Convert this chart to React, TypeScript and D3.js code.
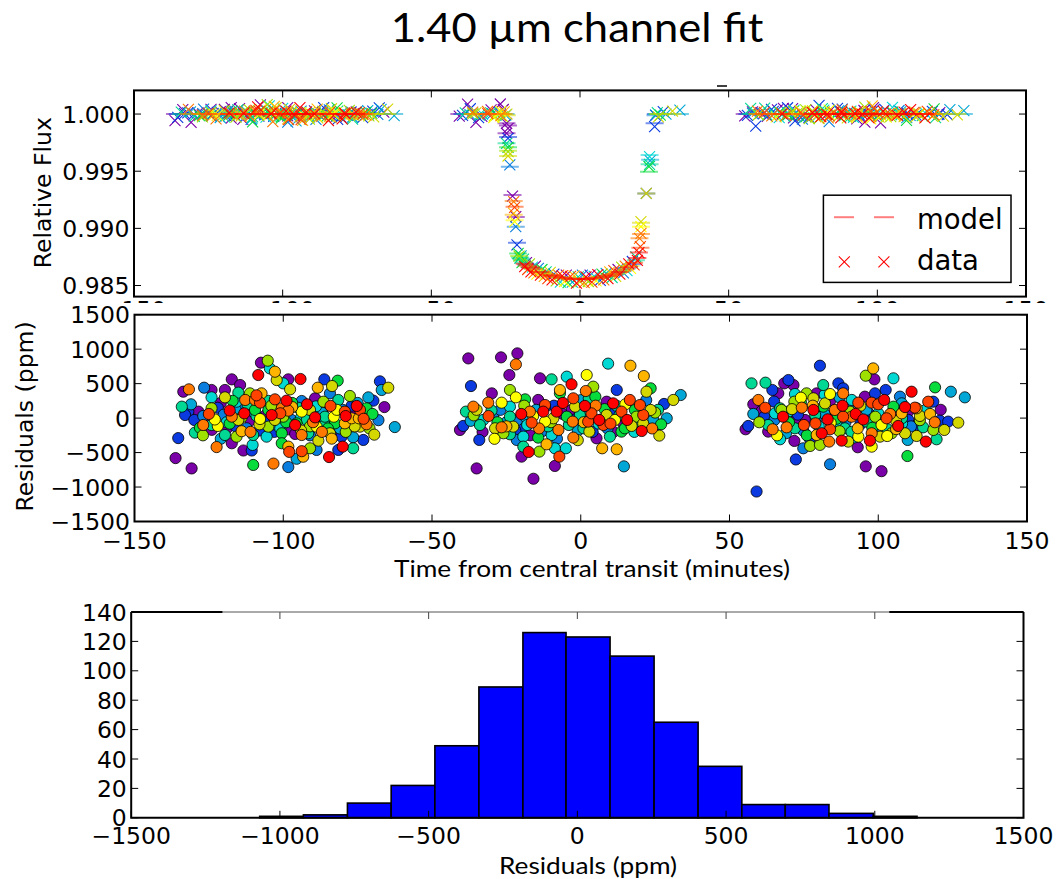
import React from "react";
import * as d3 from "d3";

const W = 1061;
const H = 879;

// colour index -> rainbow colour (visit colours)
const PALETTE = [
  "#7a00a8", "#0a3ae0", "#0a7ede", "#00a6d6", "#00d8d4", "#00d894", "#08dc3c",
  "#9ee000", "#d4d800", "#ffff00", "#ffb400", "#ff7800", "#ff4400", "#ff0000",
];

// residuals [time (min), residual (ppm), colour index]
const residLeft: [number, number, number][] = [
  [-107.5,804,0],[-105.2,833,7],[-102.8,673,10],[-108.4,625,13],[-104.5,721,4],
  [-117.3,562,0],[-114.5,480,0],[-98.3,562,0],[-94.2,567,13],[-102.2,552,8],[-100.0,504,4],
  [-86.2,562,1],[-81.7,543,6],[-83.6,465,8],[-88.4,441,10],[-84.3,359,2],
  [-67.5,533,1],[-64.7,441,8],[-66.9,408,3],
  [-126.6,441,2],[-131.7,417,11],[-133.6,383,0],[-124.1,408,0],[-119.6,408,0],[-115.1,369,5],[-119.6,301,8],[-124.1,301,4],[-111.2,359,7],[-107.3,359,10],[-97.7,417,8],[-102.8,272,12],[-98.9,253,13],[-93.8,248,2],[-89.3,287,0],[-86.5,238,7],[-81.5,263,5],[-77.6,321,7],[-71.4,301,3],[-69.7,253,1],
  [-134.1,166,5],[-131.9,94,1],[-128.5,94,0],[-124.1,142,7],[-115.7,238,4],[-112.8,263,11],[-109.5,263,11],[-107.8,224,12],[-105.0,118,6],[-100.5,142,11],[-98.3,108,11],[-93.8,94,9],[-91.0,118,8],[-89.3,11,13],[-86.5,142,0],[-84.1,176,12],[-79.3,94,12],[-75.3,176,13],[-74.2,118,12],[-72.0,142,6],
  [-133.0,45,1],[-129.9,-27,1],[-126.9,31,2],[-126.9,-100,11],[-124.1,-100,5],[-122.0,-114,9],[-117.3,21,11],[-113.1,69,13],[-115.1,-27,8],[-109.5,118,6],[-107.8,-13,9],[-103.9,45,13],[-102.8,-27,8],[-100.0,21,7],[-97.2,-27,2],[-95.5,-76,6],[-92.1,-27,5],[-88.8,-124,9],[-86.0,-27,3],[-82.6,-76,6],[-79.3,-76,10],[-77.0,-3,10],[-74.6,-3,10],[-73.1,-51,7],[-74.2,-124,8],[-78.1,-124,1],
  [-135.3,-290,1],[-129.7,-211,5],[-119.6,-245,5],[-115.7,-269,7],[-112.3,-148,2],[-110.1,-245,5],[-105.0,-124,7],[-105.6,-269,4],[-100.5,-220,6],[-98.3,-162,0],[-93.8,-245,11],[-91.6,-220,5],[-88.2,-327,8],[-84.3,-220,8],[-83.7,-298,10],[-80.4,-269,1],[-76.5,-278,3],[-73.1,-317,1],[-69.4,-240,8],[-62.5,-130,3],
  [-122.4,-420,11],[-117.3,-365,0],[-113.4,-470,0],[-110.3,-389,4],[-110.6,-470,1],[-100.5,-365,6],[-98.3,-414,10],[-98.0,-490,12],[-93.8,-480,12],[-91.0,-438,7],[-93.3,-560,10],[-95.5,-590,3],[-88.8,-462,2],[-84.6,-565,13],[-80.0,-414,13],[-81.5,-462,1],[-76.5,-438,5],
  [-136.2,-580,0],[-130.8,-730,0],[-110.1,-680,6],[-103.3,-660,11],[-98.3,-710,2],
  [-120,50,2],[-118,-80,6],[-116,120,3],[-111,-30,0],[-109,30,5],[-106,-60,1],[-104,180,7],[-101,-150,4],[-99,60,0],[-96,-100,13],
  [-95,150,5],[-92,40,1],[-90,-60,11],[-87,80,3],[-85,-150,6],[-83,20,9],[-80,120,2],[-78,-40,5],[-76,60,0],[-73,-10,12],
  [-71,-150,7],[-122,150,1],[-127,-60,0],[-114,-190,10],[-108,-180,1],[-97,220,6],[-94,-180,8],[-89,170,4],[-82,-200,0],[-75,220,3],
  [-119,-150,0],[-112,200,5],[-103,-90,3],[-91,-250,2],[-86,-100,5],[-79,-200,7],[-124,-170,0],[-117,250,6],[-88,0,1],[-100,90,4],
  [-131,200,3],[-128,-140,6],[-125,60,12],[-123,-20,9],[-121,220,0],[-119,-60,4],[-118,110,13],[-116,-120,1],[-114,10,7],[-113,180,2],
  [-111,-200,11],[-110,90,3],[-108,-90,8],[-106,40,0],[-105,250,5],[-103,-200,1],[-101,70,12],[-99,-60,6],[-97,160,10],[-96,-230,0],
  [-94,10,4],[-92,200,13],[-91,-120,7],[-89,60,2],[-87,-200,11],[-86,20,5],[-84,-80,0],[-82,120,9],[-81,-150,3],[-79,30,13],
  [-77,180,1],[-76,-120,8],[-74,40,4],[-72,-90,11],[-70,60,6],[-68,-30,2],[-66,160,0],[-127,-250,7],[-121,-300,3],[-109,330,12],
];

const residCenter: [number, number, number][] = [
  [-37.8,866,0],[-26.8,881,0],[-21.3,939,0],[-21.8,779,11],[-24.0,625,0],[-36.9,465,1],[9.2,790,4],[16.7,760,10],[21.2,610,10],[-13.7,577,0],
  [-9.8,562,5],[-4.7,601,4],[2.0,625,9],[-3.1,490,13],[-7.0,407,10],[1.7,393,11],[4.2,456,7],[-29.9,359,0],[-23.8,408,7],[-21.8,301,9],
  [-26.6,224,9],[-31.1,224,11],[-36.1,166,11],[-38.6,94,5],[-23.8,166,4],[-18.7,272,6],[-14.3,263,0],[-12.0,190,12],[-2.5,287,12],[1.4,176,13],
  [4.9,311,6],[12.1,408,1],[10.9,214,13],[16.5,263,12],[22.1,383,8],[23.5,432,6],[31.1,263,8],[33.6,335,3],[28.0,205,1],[21.0,45,12],
  [18.2,118,6],[13.7,94,12],[11.5,-27,9],[15.6,-27,13],[20.5,-187,13],[24.4,-27,3],[28.9,-3,3],[25.5,-114,1],[26.4,-254,8],[17.1,-114,8],
  [13.7,-196,6],[9.8,-269,5],[5.3,-293,0],[7.2,-438,10],[12.1,-452,10],[14.5,-700,3],[6.2,-27,13],[7.6,-100,12],[2.5,-51,12],[2.9,-196,8],
  [-1.9,166,8],[-8.1,94,13],[-12.6,94,13],[-17.1,94,11],[-2.7,-51,11],[-7.5,-172,11],[-12.0,-51,9],[-16.5,-66,12],[-21.3,-27,2],[-26.6,-134,11],
  [-28.8,-148,8],[-23.8,-235,5],[-33.9,-100,5],[-39.5,-114,1],[-40.6,-172,0],[-34.1,-317,1],[-19.3,-269,4],[-14.3,-283,6],[-9.8,-245,4],[-2.5,-283,11],
  [-11.5,-380,10],[-19.3,-414,5],[-13.9,-486,7],[-17.5,-491,13],[-8.7,-438,4],[-5.0,-438,4],[-7.2,-559,12],[-8.7,-694,0],[-19.9,-559,0],[-35.0,-730,0],
  [-15.9,-880,0],[-4.7,21,6],[-9.2,-3,8],[-18.7,21,3],[-29.4,45,2],[-22.7,-124,8],[0.9,-148,5],[3.6,69,12],[8.7,45,8],[19.9,190,12],
  [23.5,118,8],[-32.8,-27,4],[-26.0,-220,7],[-21.5,-317,2],[-23.8,21,5],[-7.0,359,6],[-0.3,45,5],[8.7,238,0],[14.8,-148,6],[18.7,21,7],
  [2.7,287,5],
  [-20,-150,1],[-15,120,3],[-11,-120,5],[-6,60,0],[-1,-180,3],[3,130,2],[6,-80,4],[10,80,1],[14,-60,0],[-25,-60,3],
  [-30,110,5],[-2,-20,1],[9,-150,2],[-17,-250,0],[20,-60,5],[25,80,7],[-9,180,1],[-13,-190,2],[0,260,3],[12,180,5],
  [-37,-40,3],[-35,120,8],[-33,-200,0],[-31,30,12],[-28,-60,6],[-27,120,2],[-25,-120,10],[-22,-180,1],[-20,60,13],[-19,180,7],
  [-18,-100,4],[-16,30,9],[-14,-150,11],[-12,160,1],[-10,-60,7],[-8,-300,2],[-6,220,13],[-4,-100,5],[-3,120,0],[-1,-320,8],
  [1,-60,10],[2,80,4],[4,-200,1],[5,180,11],[7,-20,3],[8,130,6],[10,-80,12],[11,-200,0],[13,40,5],[15,200,9],
  [16,-60,1],[18,-200,4],[19,100,0],[21,-80,8],[22,260,2],[24,-150,11],[26,120,5],[27,-90,6],[-29,-300,9],[-36,40,7],
];

const residRight: [number, number, number][] = [
  [80.4,760,1],[98.3,721,10],[95.8,615,7],[98.7,562,0],[105.1,577,4],[57.4,504,5],[62.1,514,5],[69.8,552,1],[71.5,480,0],[68.4,504,0],
  [64.4,408,1],[66.4,359,0],[81.5,480,5],[86.6,504,1],[88.2,432,1],[83.8,349,9],[88.2,359,11],[79.3,359,0],[75.9,359,7],[72.0,349,4],
  [74.0,296,9],[78.2,287,8],[82.1,214,8],[74.3,152,11],[78.2,118,13],[71.8,238,7],[59.7,263,11],[58.0,200,0],[61.7,21,1],[60.8,103,0],
  [67.0,142,5],[67.5,118,7],[65.1,-27,2],[56.3,-114,1],[55.4,-162,0],[63.0,-196,0],[64.5,-162,11],[69.2,-134,11],[72.0,-148,5],[74.8,-182,2],
  [67.0,-307,4],[71.8,-331,0],[77.1,-404,7],[74.8,-438,2],[72.3,-600,1],[83.8,-670,2],[59.1,-1065,1],[95.8,-700,0],[101.1,-770,0],[109.8,-550,6],
  [78.9,-76,12],[83.0,-18,13],[83.8,-162,12],[79.3,-245,10],[83.5,-341,11],[87.7,-327,13],[80.4,-389,7],[88.2,21,12],[92.4,60,13],[93.3,224,12],
  [97.8,224,12],[102.0,263,13],[98.9,359,1],[102.5,408,1],[107.3,311,2],[111.2,383,13],[119.1,446,6],[124.4,383,3],[129.1,301,3],[116.8,238,12],
  [118.5,238,1],[112.3,152,12],[107.9,69,10],[117.4,60,10],[114.0,31,8],[102.8,-3,12],[106.7,-114,13],[104.5,-220,7],[109.0,-220,8],[109.9,-317,3],
  [112.9,-259,8],[116.0,-341,13],[119.6,-307,5],[115.1,-134,5],[118.5,-172,7],[122.2,-172,8],[120.7,-37,1],[123.5,-51,1],[126.9,-66,8],[93.1,-148,10],
  [93.3,-269,9],[97.2,-327,13],[97.8,-414,9],[93.1,-423,0],[89.9,-341,8],[100.6,-269,8],[97.8,-220,11],[88.8,-148,5],[86.0,-51,4],[96.1,-51,5],
  [100.0,69,4],[105.1,166,6],[107.9,214,3],[78.8,45,5],[75.4,-27,0],[69.8,94,4],[65.3,69,4],[91.1,263,4],[95.5,311,0],[90.5,94,7],
  [85.4,118,11],[81.5,166,6],[101.1,-100,9],[110.1,-27,1],[112.9,142,10],
  [82,60,3],[86,-10,6],[90,150,2],[94,-90,1],[99,20,7],[103,-160,5],[80,-120,4],[76,-250,6],[84,260,0],[96,120,3],
  [100,-200,2],[106,-40,8],[110,90,0],[73,50,1],[70,-60,6],[91,-200,5],[87,300,3],[104,60,11],[108,-80,4],[113,-100,1],
  [58,60,3],[60,-60,7],[62,150,12],[63,-100,5],[65,240,1],[66,-250,9],[68,20,13],[69,-220,3],[71,130,8],[72,-40,0],
  [74,230,6],[75,-100,12],[77,-300,1],[78,180,10],[79,-30,2],[81,-220,13],[82,340,4],[84,-70,9],[85,60,0],[87,-190,7],
  [88,180,13],[89,-60,2],[91,20,11],[92,-280,4],[94,180,8],[95,-20,13],[97,60,1],[98,-140,6],[100,200,12],[101,-30,3],
  [103,-260,9],[105,100,0],[106,-160,10],[108,0,5],[109,160,13],[111,-120,2],[114,-30,7],[116,120,4],[119,-60,11],[121,120,0],
];

// in-transit light curve points [time, flux, model flux, colour index]
const transitFlux: [number, number, number, number][] = [
  [-25.5,1.0002,1.0,10],[-25.0,0.9999,1.0,3],[-25.8,1.0004,1.0,0],[-24.6,1.0000,0.9999,8],
  [-24.7,0.99919,0.99919,0],[-24.2,0.99875,0.99900,0],[-24.7,0.99832,0.99832,0],[-24.2,0.99788,0.99800,1],
  [-24.7,0.99744,0.99744,5],[-24.2,0.99709,0.99709,6],[-24.2,0.99671,0.99680,7],[-24.2,0.99633,0.99633,8],[-23.6,0.99555,0.99540,2],
  [-22.7,0.99283,0.99292,0],[-22.3,0.99234,0.99240,11],[-22.0,0.99184,0.99190,12],[-22.3,0.99132,0.99120,10],[-21.6,0.99103,0.99100,0],
  [-22.0,0.99059,0.99070,9],[-21.6,0.99015,0.99015,2],[-21.2,0.98855,0.98875,1],[-20.8,0.98781,0.98781,6],[-20.5,0.98758,0.98758,7],[-20.2,0.98740,0.98745,5],
  [-19.8,0.98760,0.98735,3],[-19.5,0.98700,0.98720,6],[-19.0,0.98730,0.98700,5],[-18.6,0.98665,0.98690,13],[-18.0,0.98700,0.98680,0],
  [-17.6,0.98640,0.98672,12],[-17.0,0.98690,0.98665,7],[-16.5,0.98620,0.98658,13],[-16.0,0.98660,0.98650,4],[-15.5,0.98610,0.98644,11],
  [-15.0,0.98670,0.98638,0],[-14.5,0.98600,0.98630,9],[-14.0,0.98650,0.98625,2],[-13.3,0.98590,0.98618,13],[-12.8,0.98640,0.98613,6],
  [-12.0,0.98580,0.98605,10],[-11.4,0.98620,0.98600,5],[-10.8,0.98560,0.98595,12],[-10.0,0.98615,0.98590,8],[-9.4,0.98550,0.98586,13],
  [-8.8,0.98600,0.98582,1],[-8.0,0.98540,0.98577,7],[-7.2,0.98590,0.98573,11],[-6.6,0.98530,0.98570,4],[-6.0,0.98585,0.98568,13],
  [-5.2,0.98535,0.98565,9],[-4.6,0.98590,0.98563,0],[-4.0,0.98525,0.98562,6],[-3.2,0.98580,0.98560,12],[-2.6,0.98530,0.98559,3],
  [-2.0,0.98585,0.98558,10],[-1.2,0.98520,0.98557,13],[-0.6,0.98575,0.98557,5],[0.0,0.98535,0.98557,8],[0.8,0.98590,0.98557,2],
  [1.4,0.98525,0.98557,11],[2.0,0.98575,0.98558,13],[2.8,0.98535,0.98559,7],[3.4,0.98590,0.98561,0],[4.0,0.98530,0.98562,12],
  [4.8,0.98580,0.98564,4],[5.4,0.98540,0.98566,9],[6.0,0.98595,0.98568,13],[6.8,0.98545,0.98571,1],[7.4,0.98600,0.98575,6],
  [8.0,0.98550,0.98577,11],[8.8,0.98605,0.98582,3],[9.4,0.98560,0.98586,13],[10.0,0.98620,0.98590,10],[10.8,0.98570,0.98595,5],
  [11.4,0.98630,0.98600,12],[12.0,0.98580,0.98605,8],[12.8,0.98640,0.98613,0],[13.4,0.98600,0.98618,13],[14.0,0.98660,0.98625,7],
  [14.6,0.98610,0.98632,2],[15.2,0.98670,0.98640,11],[15.8,0.98630,0.98648,4],[16.4,0.98690,0.98660,13],[17.0,0.98650,0.98670,9],
  [17.6,0.98710,0.98685,1],[18.2,0.98680,0.98700,12],[18.8,0.98750,0.98720,5],[19.3,0.98720,0.98740,13],
  [19.8,0.98788,0.98788,13],[20.3,0.98840,0.98830,12],[20.0,0.98913,0.98913,11],[20.5,0.98957,0.98950,11],[20.5,0.99015,0.99015,9],
  [20.5,0.99059,0.99050,8],[22.3,0.99306,0.99306,1],[22.3,0.99306,0.99306,8],[23.4,0.99627,0.99642,4],[23.6,0.99592,0.99600,3],
  [23.2,0.99540,0.99496,6],[23.4,0.99560,0.99560,5],[25.1,0.99890,0.99919,1],[25.4,0.99990,0.99990,2],
];
const BASELINE_FLUX = 1.0;
const TRANSIT_HALF = 25;

const histEdges = [-1068, -921, -773, -626, -479, -331, -183, -38, 110, 258, 406, 553, 699, 846, 995, 1142];
const histCounts = [1, 2, 10, 22, 49, 89, 126, 123, 110, 65, 35, 9, 9, 3, 1];

const timeTicks = [-150, -100, -50, 0, 50, 100, 150];
const fluxTicks = [0.985, 0.99, 0.995, 1.0];
const residTicks = [-1500, -1000, -500, 0, 500, 1000, 1500];
const histXTicks = [-1500, -1000, -500, 0, 500, 1000, 1500];
const histYTicks = [0, 20, 40, 60, 80, 100, 120, 140];

const TITLE = "1.40 \u00B5m channel fit";
const TOP_YLABEL = "Relative Flux";
const MID_YLABEL = "Residuals (ppm)";
const MID_XLABEL = "Time from central transit (minutes)";
const HIST_XLABEL = "Residuals (ppm)";
const LEGEND = ["model", "data"];

const TOP = { left: 134, right: 1026, top: 90.4, bottom: 296.6 };
const MID = { left: 134.5, right: 1027, top: 314.7, bottom: 521.5 };
const HIST = { left: 131.2, right: 1023.5, top: 612, bottom: 817.8 };

const MPL = "'DejaVu Sans', sans-serif";
const CAL = "Lato, 'Open Sans', sans-serif";
const FS = 23.5;
const TL = 7;
const minus = (s: string) => s.replace("-", "\u2212");

export default function App() {
  const xT = d3.scaleLinear().domain([-150, 150]).range([TOP.left, TOP.right]);
  const yT = d3.scaleLinear().domain([0.98403, 1.00207]).range([TOP.bottom, TOP.top]);
  const xM = d3.scaleLinear().domain([-150, 150]).range([MID.left, MID.right]);
  const yM = d3.scaleLinear().domain([-1500, 1500]).range([MID.bottom, MID.top]);
  const xH = d3.scaleLinear().domain([-1500, 1500]).range([HIST.left, HIST.right]);
  const yH = d3.scaleLinear().domain([0, 140]).range([HIST.bottom, HIST.top]);

  const allResid = [...residLeft, ...residCenter, ...residRight];
  const topData = [
    ...allResid
      .filter(([t]) => Math.abs(t) > TRANSIT_HALF)
      .map(([t, r, c]) => ({ t, f: BASELINE_FLUX + r * 1e-6, m: BASELINE_FLUX, c })),
    ...transitFlux.map(([t, f, m, c]) => ({ t, f, m, c })),
  ];
  const colours = d3.range(PALETTE.length);
  const residSorted = d3.sort(allResid, (d) => d[2]);

  const xs = 5.5;
  const crossPath = (x: number, y: number) =>
    `M${x - xs},${y - xs}L${x + xs},${y + xs}M${x - xs},${y + xs}L${x + xs},${y - xs}`;

  const fmtFlux = d3.format(".3f");

  return (
    <svg width={W} height={H} style={{ position: "absolute", left: 0, top: 0, background: "#fff" }}>
      <defs>
        <clipPath id="cTop">
          <rect x={TOP.left} y={TOP.top} width={TOP.right - TOP.left} height={TOP.bottom - TOP.top} />
        </clipPath>
        <clipPath id="cTopLab">
          <rect x={0} y={298} width={W} height={5} />
        </clipPath>
        <clipPath id="cMid">
          <rect x={MID.left} y={MID.top} width={MID.right - MID.left} height={MID.bottom - MID.top} />
        </clipPath>
      </defs>
      <rect width={W} height={H} fill="#fff" />

      {/* Title */}
      <text x={577} y={41.7} textAnchor="middle" fontFamily={CAL} fontSize={41} textLength={372.6} lengthAdjust="spacingAndGlyphs" fill="#000">
        {TITLE}
      </text>
      <line x1={717} x2={727} y1={86} y2={86} stroke="#000" strokeWidth={1.5} />

      {/* ---------- TOP PANEL ---------- */}
      <g clipPath="url(#cTop)">
        {colours.map((c) => (
          <g key={c}>
            {topData.filter((d) => d.c === c).map((d, i) => (
              <line key={"m" + i} x1={xT(d.t) - 9} x2={xT(d.t) + 9} y1={yT(d.m)} y2={yT(d.m)} stroke={PALETTE[c]} strokeOpacity={0.55} strokeWidth={2} />
            ))}
            {topData.filter((d) => d.c === c).map((d, i) => (
              <path key={"d" + i} d={crossPath(xT(d.t), yT(d.f))} stroke={PALETTE[c]} strokeWidth={1.1} fill="none" />
            ))}
          </g>
        ))}
      </g>
      {timeTicks.map((t) => (
        <g key={"tt" + t}>
          <line x1={xT(t)} x2={xT(t)} y1={TOP.bottom} y2={TOP.bottom - TL} stroke="#000" />
          <line x1={xT(t)} x2={xT(t)} y1={TOP.top} y2={TOP.top + TL} stroke="#000" />
        </g>
      ))}
      {fluxTicks.map((v) => (
        <g key={"ft" + v}>
          <line x1={TOP.left} x2={TOP.left + TL} y1={yT(v)} y2={yT(v)} stroke="#000" />
          <line x1={TOP.right} x2={TOP.right - TL} y1={yT(v)} y2={yT(v)} stroke="#000" />
          <text x={129.5} y={yT(v) + 8.6} textAnchor="end" fontFamily={MPL} fontSize={FS}>{fmtFlux(v)}</text>
        </g>
      ))}
      <g clipPath="url(#cTopLab)">
        {timeTicks.map((t) => (
          <text key={"tl" + t} x={xT(t)} y={318} textAnchor="middle" fontFamily={MPL} fontSize={FS}>{minus(String(t))}</text>
        ))}
      </g>
      <rect x={TOP.left} y={TOP.top} width={TOP.right - TOP.left} height={TOP.bottom - TOP.top} fill="none" stroke="#000" strokeWidth={2} />
      <text transform={`translate(50.5,192.7) rotate(-90)`} textAnchor="middle" fontFamily={MPL} fontSize={FS}>{TOP_YLABEL}</text>

      {/* legend */}
      <rect x={823.4} y={195.2} width={187.6} height={87.2} fill="#fff" stroke="#000" strokeWidth={1.5} />
      <line x1={834} x2={854} y1={217.2} y2={217.2} stroke="#ff0000" strokeOpacity={0.5} strokeWidth={2} />
      <line x1={874} x2={894} y1={217.2} y2={217.2} stroke="#ff0000" strokeOpacity={0.5} strokeWidth={2} />
      <text x={917} y={229} fontFamily={MPL} fontSize={27.5}>{LEGEND[0]}</text>
      <path d={crossPath(844.3, 261.8)} stroke="#ff0000" strokeWidth={1.1} fill="none" />
      <path d={crossPath(883.9, 261.8)} stroke="#ff0000" strokeWidth={1.1} fill="none" />
      <text x={917} y={269.6} fontFamily={MPL} fontSize={27.5}>{LEGEND[1]}</text>

      {/* ---------- MIDDLE PANEL ---------- */}
      <rect x={MID.left} y={MID.top} width={MID.right - MID.left} height={MID.bottom - MID.top} fill="#fff" />
      <g clipPath="url(#cMid)">
        {residSorted.map(([t, r, c], i) => (
          <circle key={i} cx={xM(t)} cy={yM(r)} r={5.6} fill={PALETTE[c]} stroke="#000" strokeWidth={0.8} />
        ))}
      </g>
      {timeTicks.map((t) => (
        <g key={"mt" + t}>
          <line x1={xM(t)} x2={xM(t)} y1={MID.bottom} y2={MID.bottom - TL} stroke="#000" />
          <line x1={xM(t)} x2={xM(t)} y1={MID.top} y2={MID.top + TL} stroke="#000" />
          <text x={xM(t)} y={548.6} textAnchor="middle" fontFamily={MPL} fontSize={FS}>{minus(String(t))}</text>
        </g>
      ))}
      {residTicks.map((v) => (
        <g key={"rt" + v}>
          <line x1={MID.left} x2={MID.left + TL} y1={yM(v)} y2={yM(v)} stroke="#000" />
          <line x1={MID.right} x2={MID.right - TL} y1={yM(v)} y2={yM(v)} stroke="#000" />
          <text x={130} y={yM(v) + 8.6} textAnchor="end" fontFamily={MPL} fontSize={FS}>{minus(String(v))}</text>
        </g>
      ))}
      <rect x={MID.left} y={MID.top} width={MID.right - MID.left} height={MID.bottom - MID.top} fill="none" stroke="#000" strokeWidth={2} />
      <text transform={`translate(33,416.4) rotate(-90)`} textAnchor="middle" fontFamily={MPL} fontSize={FS}>{MID_YLABEL}</text>
      <text x={592} y={577.3} textAnchor="middle" fontFamily={CAL} fontSize={23.5} textLength={396} lengthAdjust="spacingAndGlyphs">{MID_XLABEL}</text>

      {/* ---------- HISTOGRAM ---------- */}
      {histCounts.map((n, i) => (
        <rect key={"h" + i} x={xH(histEdges[i])} y={yH(n)} width={xH(histEdges[i + 1]) - xH(histEdges[i])} height={yH(0) - yH(n)} fill="#0000ff" stroke="#000" strokeWidth={1.6} />
      ))}
      {histXTicks.map((v) => (
        <g key={"hx" + v}>
          <line x1={xH(v)} x2={xH(v)} y1={HIST.bottom} y2={HIST.bottom - TL} stroke="#000" />
          <line x1={xH(v)} x2={xH(v)} y1={HIST.top} y2={HIST.top + TL} stroke="#444" />
          <text x={xH(v)} y={844} textAnchor="middle" fontFamily={MPL} fontSize={FS}>{minus(String(v))}</text>
        </g>
      ))}
      {histYTicks.map((v) => (
        <g key={"hy" + v}>
          <line x1={HIST.left} x2={HIST.left + TL} y1={yH(v)} y2={yH(v)} stroke="#000" />
          <line x1={HIST.right} x2={HIST.right - TL} y1={yH(v)} y2={yH(v)} stroke="#000" />
          <text x={126.8} y={yH(v) + 8.6} textAnchor="end" fontFamily={MPL} fontSize={FS}>{String(v)}</text>
        </g>
      ))}
      <line x1={HIST.left} x2={HIST.right} y1={HIST.top} y2={HIST.top} stroke="#555" strokeWidth={1} />
      <line x1={HIST.left} x2={222.4} y1={HIST.top} y2={HIST.top} stroke="#000" strokeWidth={2} />
      <line x1={889.3} x2={HIST.right} y1={HIST.top} y2={HIST.top} stroke="#000" strokeWidth={2} />
      <path d={`M${HIST.left},${HIST.top}V${HIST.bottom}H${HIST.right}V${HIST.top}`} fill="none" stroke="#000" strokeWidth={2} />
      <text x={588} y={874} textAnchor="middle" fontFamily={CAL} fontSize={23} textLength={178} lengthAdjust="spacingAndGlyphs">{HIST_XLABEL}</text>
    </svg>
  );
}
